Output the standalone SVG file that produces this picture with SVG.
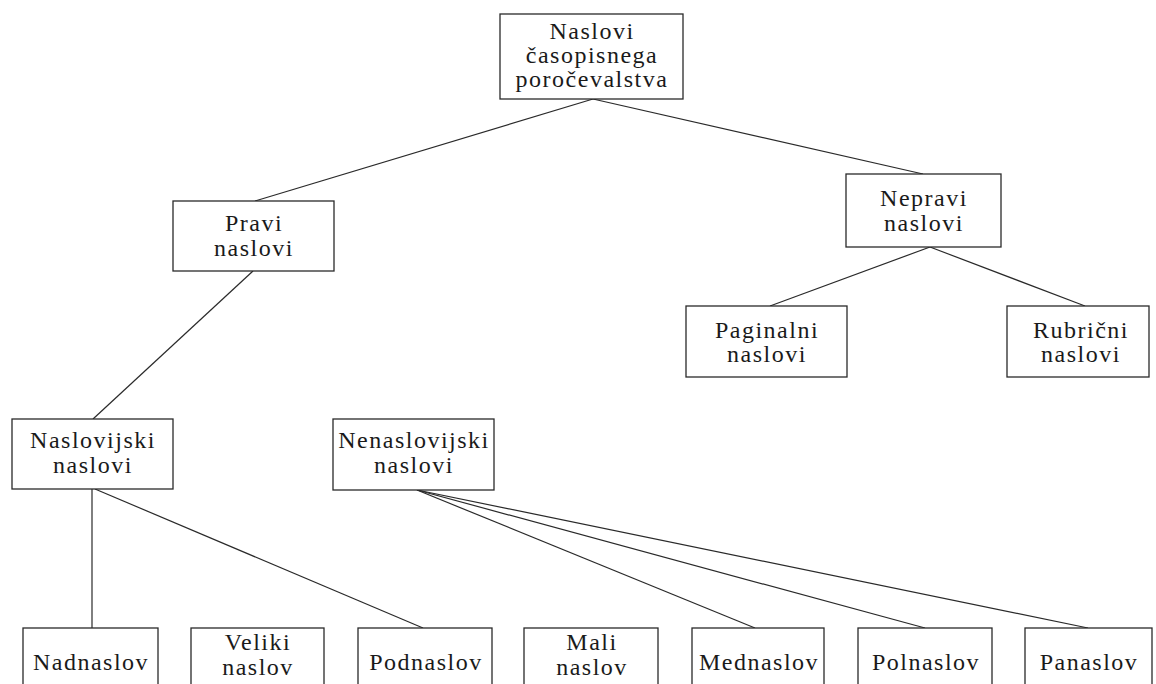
<svg xmlns="http://www.w3.org/2000/svg" width="1156" height="684" viewBox="0 0 1156 684">
<style>
.box{fill:#fff;stroke:#2a2a2a;stroke-width:1.3}
.lbl{font-family:"Liberation Serif","Times New Roman",serif;font-size:24px;fill:#1a1a1a;text-anchor:middle;letter-spacing:1.5px}
.conn line{stroke:#2a2a2a;stroke-width:1.2}
</style>
<rect width="1156" height="684" fill="#fff"/>
<g id="connectors" class="conn">
<line x1="593" y1="99" x2="255" y2="201"/>
<line x1="593" y1="99" x2="923" y2="174"/>
<line x1="253" y1="271" x2="93" y2="419"/>
<line x1="930" y1="247" x2="770" y2="306"/>
<line x1="930" y1="247" x2="1085" y2="306"/>
<line x1="92" y1="489" x2="92" y2="628"/>
<line x1="95" y1="489" x2="423" y2="628"/>
<line x1="417" y1="490" x2="755" y2="628"/>
<line x1="417" y1="490" x2="925" y2="628"/>
<line x1="417" y1="490" x2="1088" y2="628"/>
</g>
<g id="n-root"><rect class="box" x="500" y="14" width="183" height="85"/>
<text class="lbl" x="592" y="39">Naslovi</text><text class="lbl" x="592" y="63">časopisnega</text><text class="lbl" x="592" y="87">poročevalstva</text></g>
<g id="n-pravi"><rect class="box" x="173" y="201" width="161" height="70"/>
<text class="lbl" x="254" y="231">Pravi</text><text class="lbl" x="254" y="256">naslovi</text></g>
<g id="n-nepravi"><rect class="box" x="846" y="174" width="155" height="73"/>
<text class="lbl" x="924" y="206">Nepravi</text><text class="lbl" x="924" y="231">naslovi</text></g>
<g id="n-paginalni"><rect class="box" x="686" y="306" width="161" height="71"/>
<text class="lbl" x="767" y="338">Paginalni</text><text class="lbl" x="767" y="362">naslovi</text></g>
<g id="n-rubricni"><rect class="box" x="1007" y="306" width="142" height="71"/>
<text class="lbl" x="1081" y="338">Rubrični</text><text class="lbl" x="1081" y="362">naslovi</text></g>
<g id="n-naslovijski"><rect class="box" x="12" y="419" width="161" height="70"/>
<text class="lbl" x="93" y="448">Naslovijski</text><text class="lbl" x="93" y="473">naslovi</text></g>
<g id="n-nenaslovijski"><rect class="box" x="333" y="419" width="161" height="71"/>
<text class="lbl" x="414" y="448">Nenaslovijski</text><text class="lbl" x="414" y="473">naslovi</text></g>
<g id="n-nadnaslov"><rect class="box" x="23" y="628" width="135" height="70"/>
<text class="lbl" x="91" y="670">Nadnaslov</text></g>
<g id="n-veliki"><rect class="box" x="191" y="628" width="133" height="70"/>
<text class="lbl" x="258" y="650">Veliki</text><text class="lbl" x="258" y="675">naslov</text></g>
<g id="n-podnaslov"><rect class="box" x="358" y="628" width="134" height="70"/>
<text class="lbl" x="426" y="670">Podnaslov</text></g>
<g id="n-mali"><rect class="box" x="524" y="628" width="134" height="70"/>
<text class="lbl" x="592" y="650">Mali</text><text class="lbl" x="592" y="675">naslov</text></g>
<g id="n-mednaslov"><rect class="box" x="692" y="628" width="132" height="70"/>
<text class="lbl" x="759" y="670">Mednaslov</text></g>
<g id="n-polnaslov"><rect class="box" x="858" y="628" width="134" height="70"/>
<text class="lbl" x="926" y="670">Polnaslov</text></g>
<g id="n-panaslov"><rect class="box" x="1025" y="628" width="127" height="70"/>
<text class="lbl" x="1089" y="670">Panaslov</text></g>
</svg>
